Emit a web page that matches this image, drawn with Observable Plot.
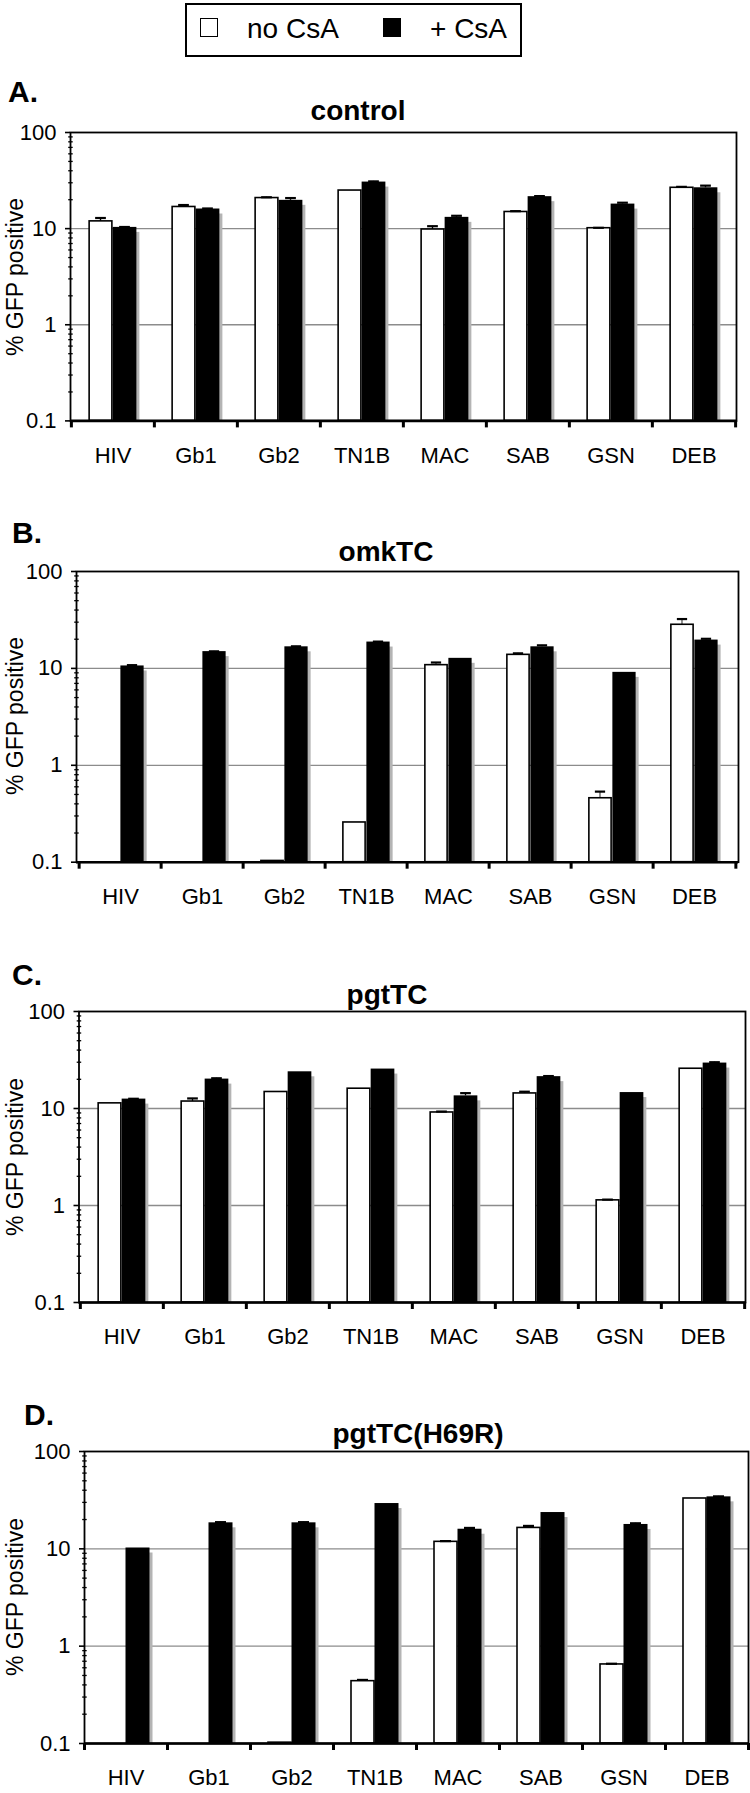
<!DOCTYPE html>
<html><head><meta charset="utf-8">
<script src="https://cdn.jsdelivr.net/npm/d3@7"></script>
<script src="https://cdn.jsdelivr.net/npm/@observablehq/plot@0.6"></script>
<style>
body{margin:0;background:#fff;}
#page{position:relative;width:750px;height:1793px;overflow:hidden;font-family:"Liberation Sans",Arial,Helvetica,sans-serif;color:#000;}
.abs{position:absolute;white-space:nowrap;line-height:1;}
.letter{font-size:30px;font-weight:bold;}
.title{font-size:28px;font-weight:bold;transform:translateX(-50%);}
.ylab{font-size:23px;transform:translate(-50%,-50%) rotate(-90deg);}
#legend{position:absolute;left:185px;top:3px;width:333px;height:50px;border:2px solid #000;background:#fff;}
.sw{position:absolute;width:16px;height:17px;border:1.6px solid #000;}
.lt{position:absolute;font-size:28px;line-height:1;white-space:nowrap;}
.plotbox{position:absolute;left:0;}
</style></head><body><div id="page"></div>
<script>
// ---------- data ----------
const categories = ["HIV", "Gb1", "Gb2", "TN1B", "MAC", "SAB", "GSN", "DEB"];
const seriesNames = ["no CsA", "+ CsA"];
const panelLetters = ["A.", "B.", "C.", "D."];
const panelTitles = ["control", "omkTC", "pgtTC", "pgtTC(H69R)"];
const yTicks = [0.1, 1, 10, 100];
const yMinorTicks = [0.2,0.3,0.4,0.5,0.6,0.7,0.8,0.9, 2,3,4,5,6,7,8,9, 20,30,40,50,60,70,80,90];
const yLabel = "% GFP positive";

// A. control
const controlNo      = [11.9, 16.8, 20.8, 24.9, 9.8, 14.9, 10.1, 26.6];
const controlNoErr   = [12.9, 17.6, 21.2, null, 10.6, 15.2, 10.2, 27.2];
const controlPlus    = [10.3, 16.0, 19.7, 30.5, 13.1, 21.5, 18.0, 26.6];
const controlPlusErr = [10.4, 16.2, 20.8, 31.0, 13.6, 21.8, 18.6, 28.0];
// B. omkTC
const omkNo      = [null, null, 0.103, 0.257, 10.8, 13.8, 0.457, 28.2];
const omkNoErr   = [null, null, null, null, 11.5, 14.3, 0.535, 32.3];
const omkPlus    = [10.6, 14.9, 16.7, 18.7, 12.7, 16.7, 9.1, 19.6];
const omkPlusErr = [10.8, 15.0, 16.9, 18.9, null, 17.3, null, 20.2];
// C. pgtTC
const pgtNo      = [11.3, 11.8, 14.8, 16.0, 9.1, 14.3, 1.13, 25.7];
const pgtNoErr   = [null, 12.7, null, null, 9.3, 14.9, 1.15, null];
const pgtPlus    = [12.5, 20.1, 23.9, 25.5, 13.5, 21.3, 14.6, 29.4];
const pgtPlusErr = [12.6, 20.5, null, null, 14.4, 21.6, null, 30.0];
// D. pgtTC(H69R)
const h69rNo      = [null, null, 0.102, 0.437, 11.8, 16.4, 0.649, 32.9];
const h69rNoErr   = [null, null, null, 0.45, 12.0, 17.2, 0.66, null];
const h69rPlus    = [10.2, 18.5, 18.5, 29.2, 15.9, 23.6, 17.8, 34.2];
const h69rPlusErr = [null, 18.8, 18.8, null, 16.4, null, 18.3, 34.6];

// ---------- layout (pixels) ----------
const frames = [
  {left: 70,   right: 736, top: 132.3, bottom: 420.7},
  {left: 76,   right: 738, top: 571,   bottom: 861.7},
  {left: 78.5, right: 745, top: 1011,  bottom: 1302},
  {left: 84,   right: 748, top: 1451,  bottom: 1743}
];
const letterPos = [{x: 8, base: 102}, {x: 12, base: 543}, {x: 12, base: 985}, {x: 24, base: 1425}];
const titlePos = [{cx: 358, base: 121}, {cx: 386, base: 562}, {cx: 387, base: 1005}, {cx: 418, base: 1444}];

const panels = [
  {no: controlNo, noErr: controlNoErr, plus: controlPlus, plusErr: controlPlusErr},
  {no: omkNo, noErr: omkNoErr, plus: omkPlus, plusErr: omkPlusErr},
  {no: pgtNo, noErr: pgtNoErr, plus: pgtPlus, plusErr: pgtPlusErr},
  {no: h69rNo, noErr: h69rNoErr, plus: h69rPlus, plusErr: h69rPlusErr}
];

const page = document.getElementById("page");
const FONT = '"Liberation Sans", Arial, Helvetica, sans-serif';

// legend
const legend = document.createElement("div");
legend.id = "legend";
legend.innerHTML =
  `<div class="sw" style="left:13px;top:13px;background:#fff"></div>` +
  `<div class="lt" style="left:60px;top:10px">${seriesNames[0]}</div>` +
  `<div class="sw" style="left:196px;top:13px;background:#000"></div>` +
  `<div class="lt" style="left:243px;top:10px">${seriesNames[1]}</div>`;
page.appendChild(legend);

function addDiv(cls, txt, left, top) {
  const d = document.createElement("div");
  d.className = "abs " + cls;
  d.textContent = txt;
  d.style.left = left + "px";
  d.style.top = top + "px";
  page.appendChild(d);
  return d;
}

panels.forEach((p, i) => {
  const f = frames[i];
  const mt = 12, mb = 50;
  const ml = f.left, mr = 750 - f.right;
  const h = mt + (f.bottom - f.top) + mb;
  const bw = (f.right - f.left) / categories.length;
  const ins = (off, w) => ({insetLeft: bw / 2 + off - w / 2, insetRight: bw / 2 - off - w / 2});
  const rows = categories.map((c, j) => ({cat: c, no: p.no[j], noErr: p.noErr[j], plus: p.plus[j], plusErr: p.plusErr[j]}));
  const base = yTicks[0];
  const noRows = rows.filter(d => d.no != null);
  const plusRows = rows.filter(d => d.plus != null);
  const noErrRows = rows.filter(d => d.noErr != null);
  const plusErrRows = rows.filter(d => d.plusErr != null);

  const chart = Plot.plot({
    width: 750, height: h,
    marginLeft: ml, marginRight: mr, marginTop: mt, marginBottom: mb,
    x: {domain: categories, padding: 0, axis: null},
    y: {type: "log", domain: [yTicks[0], yTicks[yTicks.length - 1]], axis: null},
    style: {fontFamily: FONT, fontSize: "22px", color: "#000", background: "transparent", overflow: "visible"},
    marks: [
      Plot.ruleY([1, 10], {stroke: "#8c8c8c", strokeWidth: 1.3}),
      Plot.barY(plusRows, {x: "cat", y1: () => base, y2: "plus", fill: "#b4b4b4", dx: 3, dy: 5, clip: "frame", ...ins(12, 24)}),
      Plot.barY(plusRows, {x: "cat", y1: () => base, y2: "plus", fill: "#000", ...ins(12, 24)}),
      Plot.barY(noRows, {x: "cat", y1: () => base, y2: "no", fill: "#fff", stroke: "#000", strokeWidth: 1.6, ...ins(-12, 23)}),
      Plot.barY(noErrRows, {x: "cat", y1: "no", y2: "noErr", fill: "#000", ...ins(-12, 1.6)}),
      Plot.tickY(noErrRows, {x: "cat", y: "noErr", stroke: "#000", strokeWidth: 2.2, ...ins(-12, 11)}),
      Plot.barY(plusErrRows, {x: "cat", y1: "plus", y2: "plusErr", fill: "#000", ...ins(12, 1.6)}),
      Plot.tickY(plusErrRows, {x: "cat", y: "plusErr", stroke: "#000", strokeWidth: 2.2, ...ins(12, 11)}),
      Plot.frame({stroke: "#000", strokeWidth: 1.8}),
      Plot.ruleY([base], {stroke: "#000", strokeWidth: 2.6}),
      Plot.axisY({ticks: yTicks, tickFormat: d => String(d), tickSize: 5, tickPadding: 9, strokeWidth: 1.6, label: null}),
      Plot.axisY({ticks: yMinorTicks, tickFormat: () => "", tickSize: 4.5, dx: 2.7, strokeWidth: 1.3, label: null}),
      Plot.axisX({tickSize: 7, strokeWidth: 3, tickFormat: () => "", dx: -bw / 2, label: null}),
      Plot.axisX([categories[categories.length - 1]], {tickSize: 7, strokeWidth: 3, tickFormat: () => "", dx: bw / 2, label: null}),
      Plot.axisX({tickSize: 0, tickPadding: 26, label: null})
    ]
  });
  chart.querySelectorAll("text").forEach(el => { el.style.fontSize = "22px"; el.setAttribute("font-size", 22); });
  const box = document.createElement("div");
  box.className = "plotbox";
  box.style.top = (f.top - mt) + "px";
  box.appendChild(chart);
  page.appendChild(box);

  addDiv("letter", panelLetters[i], letterPos[i].x, letterPos[i].base - 0.8465 * 30);
  addDiv("title", panelTitles[i], titlePos[i].cx, titlePos[i].base - 0.8465 * 28);
  addDiv("ylab", yLabel, 15, (f.top + f.bottom) / 2);
});
</script>
</body></html>
